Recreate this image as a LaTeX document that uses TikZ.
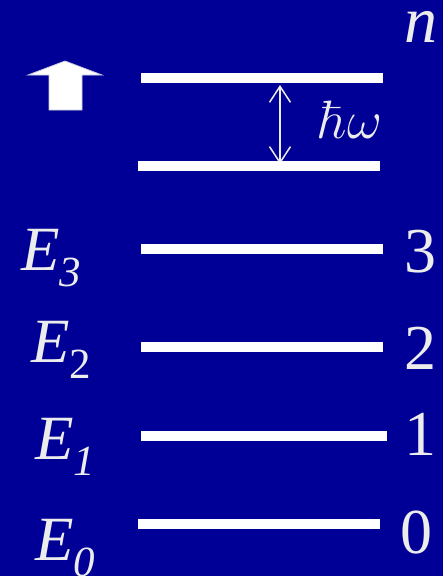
\RequirePackage{fix-cm}
\documentclass[tikz,border=0pt]{standalone}
\usepackage[no-math]{fontspec}
\setmainfont{Liberation Serif}
\usetikzlibrary{arrows.meta}
\definecolor{bgblue}{RGB}{0,0,150}
\definecolor{txt}{RGB}{236,236,236}
\tikzset{
  level/.style={white, line width=10pt},
  lbl/.style={inner sep=0pt, anchor=base west, text=txt},
  bigfont/.style={font=\fontsize{64}{64}\selectfont},
}
\newcommand{\Elbl}[2]{\fontsize{63}{63}\selectfont\itshape E\raisebox{-16pt}{\fontsize{43}{43}\selectfont #1#2}}
\begin{document}
\begin{tikzpicture}[x=1pt,y=-1pt]
\fill[bgblue] (0,0) rectangle (443,576);
\useasboundingbox (0,0) rectangle (443,576);
% energy levels
\coordinate (n1) at (141,78);  \coordinate (n2) at (383,78);
\coordinate (m1) at (138,166); \coordinate (m2) at (380,166);
\coordinate (t1) at (141,249); \coordinate (t2) at (383,249);
\coordinate (w1) at (141,347); \coordinate (w2) at (383,347);
\coordinate (o1) at (141,436); \coordinate (o2) at (387,436);
\coordinate (z1) at (138,524); \coordinate (z2) at (380,524);
% gap arrow
\coordinate (ga) at (280,85);
\coordinate (gb) at (280,164);
\draw[txt, line width=1.5pt, {Straight Barb[length=16pt,width=21pt]}-{Straight Barb[length=16pt,width=21pt]}] (ga) -- (gb);
\draw[level] (n1) -- (n2);
\draw[level] (m1) -- (m2);
\draw[level] (t1) -- (t2);
\draw[level] (w1) -- (w2);
\draw[level] (o1) -- (o2);
\draw[level] (z1) -- (z2);
% block arrow
\filldraw[fill=white, draw=txt!85!bgblue, line width=0.8pt]
  (28,75) -- (65,61) -- (102,75) -- (82,75) -- (82,110) -- (49,110) -- (49,75) -- cycle;
% labels
\node[lbl] (hw) at (319,138) {\fontsize{54}{54}\selectfont$\hbar\omega$};
\node[lbl, font=\fontsize{66}{66}\selectfont\itshape] (nn) at (404,42) {n};
\node[lbl, bigfont] (d3) at (404,272) {3};
\node[lbl, bigfont] (d2) at (404,369) {2};
\node[lbl, bigfont] (d1) at (404,455) {1};
\node[lbl, bigfont] (d0) at (400,553) {0};
\node[lbl] (e3) at (21,270) {\Elbl{\itshape}{3}};
\node[lbl] (e2) at (31,362) {\Elbl{\upshape}{2}};
\node[lbl] (e1) at (35,459) {\Elbl{\itshape}{1}};
\node[lbl] (e0) at (35,560) {\Elbl{\itshape}{0}};
\end{tikzpicture}
\end{document}
